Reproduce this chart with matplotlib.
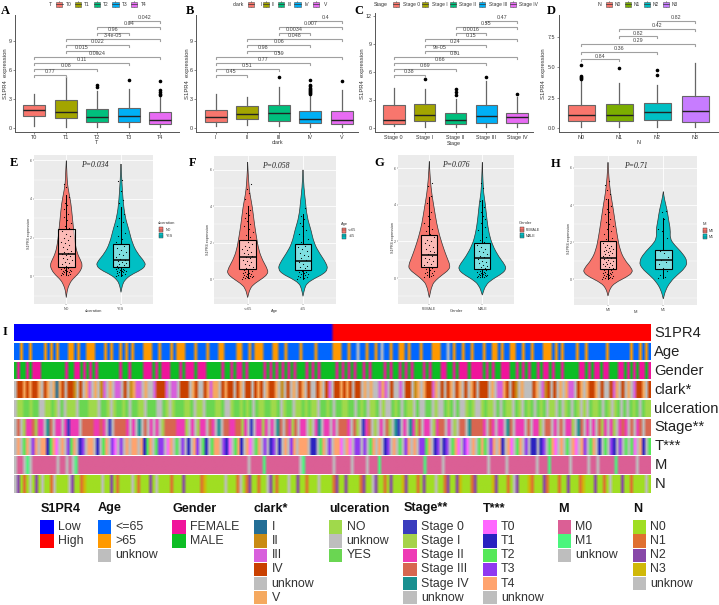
#!/usr/bin/env python3
# S1PR4 clinical figure: boxplots A-D, violins E-H, annotation heatmap I
import numpy as np
import matplotlib
matplotlib.use("Agg")
import matplotlib.pyplot as plt
from matplotlib.colors import ListedColormap
from matplotlib.patches import PathPatch, Rectangle
from matplotlib.path import Path

W, H = 719, 605
SERIF = 'Liberation Serif'
SANS = 'Liberation Sans'
GG5 = ['#F8766D', '#A3A500', '#00BF7D', '#00B0F6', '#E76BF3']
GG4 = ['#F8766D', '#7CAE00', '#00BFC4', '#C77CFF']
GG2 = ['#F8766D', '#00BFC4']

#### boxplot data
t_cats = ['T0', 'T1', 'T2', 'T3', 'T4']
t_low = [0.17, 0.10, 0.10, 0.05, 0.10]
t_q1 = [1.20, 0.97, 0.60, 0.55, 0.40]
t_med = [1.80, 1.65, 1.07, 1.17, 0.82]
t_q3 = [2.40, 2.85, 1.90, 2.05, 1.60]
t_high = [3.45, 5.30, 3.85, 4.05, 3.20]
t_out = [[], [], [4.4, 4.2], [4.95], [4.8, 3.9, 3.75, 3.55, 3.4]]
t_p = ['0.77', '0.08', '0.11', '0.0024', '0.015', '0.022', '3.4e-05', '0.96', '0.04', '0.042']

clark_cats = ['I', 'II', 'III', 'IV', 'V']
clark_low = [0.20, 0.25, 0.15, 0.05, 0.10]
clark_q1 = [0.60, 0.87, 0.68, 0.42, 0.35]
clark_med = [1.05, 1.38, 1.50, 0.85, 0.75]
clark_q3 = [1.83, 2.20, 2.38, 1.68, 1.75]
clark_high = [3.50, 3.15, 4.20, 3.40, 3.85]
clark_out = [[], [], [5.25], [4.95, 4.4, 4.3, 4.15, 4.0, 3.9, 3.8, 3.7, 3.6, 3.5], [4.8]]
clark_p = ['0.45', '0.51', '0.77', '0.59', '0.98', '0.06', '0.048', '0.0034', '0.007', '0.4']

stage_cats = ['Stage 0', 'Stage I', 'Stage II', 'Stage III', 'Stage IV']
stage_low = [0.18, 0.10, 0.10, 0.05, 0.05]
stage_q1 = [0.40, 0.75, 0.43, 0.55, 0.55]
stage_med = [0.78, 1.40, 0.78, 1.25, 1.10]
stage_q3 = [2.40, 2.50, 1.60, 2.40, 1.60]
stage_high = [4.30, 4.20, 3.07, 5.00, 3.30]
stage_out = [[], [5.25], [4.1, 3.8, 3.55], [5.4], [3.6]]
stage_p = ['0.38', '0.69', '0.66', '0.81', '9e-05', '0.24', '0.15', '0.0016', '0.55', '0.47']

n_cats = ['N0', 'N1', 'N2', 'N3']
n_low = [0.05, 0.05, 0.05, 0.05]
n_q1 = [0.55, 0.55, 0.63, 0.52]
n_med = [1.10, 1.10, 1.30, 1.37]
n_q3 = [1.92, 1.95, 2.03, 2.64]
n_high = [3.87, 3.75, 3.57, 5.36]
n_out = [[5.2, 4.3, 4.2, 4.1, 4.05], [4.95], [4.78, 4.34], []]
n_p = ['0.84', '0.36', '0.29', '0.82', '0.42', '0.82']

#### violin data: value and half width of the outline, box numbers, jittered points
e_no_y = [5.98, 5.50, 4.81, 4.29, 3.78, 3.09, 2.40, 1.71, 1.19, 0.84, 0.59, 0.33, 0.07, -0.19, -0.45, -0.71, -1.10]
e_no_w = [0, 0.010, 0.018, 0.050, 0.085, 0.110, 0.134, 0.160, 0.200, 0.260, 0.295, 0.270, 0.200, 0.100, 0.050, 0.018, 0]
e_no_box = [0.05, 0.50, 1.17, 2.43, 4.20]
e_no_pts = [0.05, 0.08, 0.1, 0.12, 0.15, 0.18, 0.2, 0.22, 0.25, 0.28, 0.3, 0.32, 0.35, 0.38, 0.42, 0.45, 0.5, 0.55,
            0.63, 0.7, 0.75, 0.85, 0.9, 0.95, 1.05, 1.1, 1.15, 1.2, 1.27, 1.33, 1.4, 1.5, 1.6, 1.7, 1.8, 1.9, 2.0,
            2.1, 2.2, 2.35, 2.5, 2.6, 2.75, 2.9, 3.05, 3.2, 3.35, 3.5, 3.7, 3.8, 4.1, 4.6, 4.75]
e_yes_y = [5.81, 4.81, 3.95, 3.09, 2.40, 1.71, 1.19, 0.76, 0.55, 0.33, 0.07, -0.19, -0.45, -0.83]
e_yes_w = [0, 0.018, 0.037, 0.073, 0.146, 0.207, 0.300, 0.430, 0.450, 0.370, 0.180, 0.070, 0.025, 0]
e_yes_box = [0.03, 0.47, 0.86, 1.65, 3.60]
e_yes_pts = [0.03, 0.06, 0.09, 0.12, 0.14, 0.17, 0.2, 0.22, 0.25, 0.27, 0.3, 0.33, 0.35, 0.38, 0.4, 0.44, 0.48, 0.5,
             0.55, 0.6, 0.64, 0.7, 0.75, 0.8, 0.85, 0.92, 1.0, 1.08, 1.15, 1.25, 1.35, 1.45, 1.55, 1.65, 1.8, 1.95,
             2.1, 2.25, 2.4, 2.6, 2.8, 3.0, 3.2, 3.5, 3.8, 3.95, 4.4, 4.95, 4.97]

f_young_y = [6.41, 5.26, 4.62, 3.98, 3.07, 2.34, 1.60, 1.06, 0.51, 0.29, 0.05, -0.22, -0.49, -1.00]
f_young_w = [0, 0.018, 0.042, 0.084, 0.120, 0.157, 0.200, 0.265, 0.367, 0.360, 0.270, 0.130, 0.042, 0]
f_young_box = [0.05, 0.55, 1.24, 2.13, 4.00]
f_young_pts = [0.03, 0.05, 0.08, 0.1, 0.12, 0.14, 0.16, 0.18, 0.2, 0.22, 0.25, 0.27, 0.3, 0.33, 0.36, 0.4, 0.44, 0.48,
               0.52, 0.58, 0.62, 0.7, 0.78, 0.85, 0.92, 1.0, 1.08, 1.15, 1.22, 1.3, 1.38, 1.45, 1.52, 1.6, 1.68, 1.75,
               1.85, 1.95, 2.05, 2.15, 2.3, 2.45, 2.6, 2.75, 2.9, 3.05, 3.2, 3.35, 3.5, 3.65, 3.8, 4.0, 4.4, 4.7, 4.95, 5.2]
f_old_y = [5.99, 4.98, 4.34, 3.43, 2.70, 1.97, 1.42, 0.88, 0.55, 0.29, 0.05, -0.22, -0.49, -0.93]
f_old_w = [0, 0.018, 0.042, 0.072, 0.145, 0.200, 0.300, 0.420, 0.450, 0.370, 0.210, 0.070, 0.030, 0]
f_old_box = [0.04, 0.51, 1.02, 1.92, 3.60]
f_old_pts = [0.04, 0.07, 0.1, 0.13, 0.16, 0.2, 0.23, 0.27, 0.3, 0.34, 0.38, 0.42, 0.47, 0.52, 0.6, 0.68, 0.75, 0.85,
             0.95, 1.05, 1.15, 1.25, 1.35, 1.45, 1.55, 1.65, 1.75, 1.85, 2.05, 2.2, 2.35, 2.5, 2.7, 2.9, 3.1, 3.3, 3.45, 3.9]

g_f_y = [6.36, 5.35, 4.53, 3.89, 2.98, 2.25, 1.53, 1.07, 0.71, 0.47, 0.16, -0.11, -0.38, -1.07]
g_f_w = [0, 0.019, 0.050, 0.088, 0.138, 0.200, 0.280, 0.340, 0.390, 0.380, 0.240, 0.126, 0.050, 0]
g_f_box = [0.05, 0.58, 1.25, 2.33, 4.40]
g_f_pts = [0.06, 0.1, 0.14, 0.18, 0.22, 0.26, 0.3, 0.35, 0.4, 0.45, 0.5, 0.55, 0.62, 0.7, 0.78, 0.85, 0.95, 1.02, 1.1,
           1.2, 1.3, 1.4, 1.5, 1.6, 1.7, 1.8, 1.9, 2.0, 2.1, 2.25, 2.4, 2.55, 2.7, 2.85, 3.0, 3.2, 3.4, 3.6, 3.8, 4.1, 4.45, 5.0, 5.2]
g_m_y = [6.31, 5.35, 4.62, 4.07, 3.16, 2.44, 1.80, 1.16, 0.71, 0.47, 0.22, -0.07, -0.38, -0.93]
g_m_w = [0, 0.012, 0.025, 0.057, 0.088, 0.126, 0.190, 0.310, 0.430, 0.450, 0.365, 0.190, 0.063, 0]
g_m_box = [0.03, 0.51, 1.07, 1.89, 4.25]
g_m_pts = [0.03, 0.05, 0.07, 0.09, 0.11, 0.13, 0.15, 0.17, 0.19, 0.21, 0.24, 0.26, 0.29, 0.32, 0.35, 0.38, 0.42, 0.46,
           0.5, 0.55, 0.6, 0.66, 0.72, 0.8, 0.88, 0.95, 1.03, 1.12, 1.2, 1.3, 1.4, 1.5, 1.6, 1.7, 1.8, 1.95, 2.1, 2.25,
           2.4, 2.6, 2.8, 3.0, 3.2, 3.4, 3.6, 3.85, 4.0, 4.2, 4.9, 5.2]

h_m0_y = [6.30, 5.44, 4.72, 4.00, 3.02, 2.30, 1.58, 1.04, 0.59, 0.36, 0.11, -0.18, -0.48, -0.90]
h_m0_w = [0, 0.018, 0.042, 0.084, 0.133, 0.170, 0.217, 0.300, 0.430, 0.445, 0.330, 0.133, 0.036, 0]
h_m0_box = [0.03, 0.54, 1.13, 2.05, 4.30]
h_m0_pts = [0.03, 0.05, 0.07, 0.09, 0.11, 0.13, 0.15, 0.17, 0.2, 0.22, 0.25, 0.27, 0.3, 0.33, 0.36, 0.39, 0.42, 0.45,
            0.48, 0.52, 0.56, 0.6, 0.65, 0.7, 0.75, 0.8, 0.85, 0.9, 0.95, 1.0, 1.05, 1.1, 1.15, 1.2, 1.25, 1.3, 1.35,
            1.4, 1.45, 1.5, 1.55, 1.6, 1.65, 1.7, 1.75, 1.8, 1.85, 1.95, 2.05, 2.15, 2.25, 2.35, 2.45, 2.6, 2.7, 2.85,
            3.0, 3.1, 3.25, 3.4, 3.5, 3.65, 3.8, 3.95, 4.1, 4.3, 4.6, 4.8, 5.1, 5.3]
h_m1_y = [4.72, 4.27, 3.73, 3.20, 2.66, 2.20, 1.85, 1.40, 0.95, 0.59, 0.23, -0.13, -0.57, -1.06]
h_m1_w = [0, 0.024, 0.070, 0.096, 0.130, 0.120, 0.200, 0.350, 0.440, 0.390, 0.250, 0.130, 0.042, 0]
h_m1_box = [0.05, 0.54, 1.02, 1.56, 3.30]
h_m1_pts = [0.05, 0.1, 0.25, 0.45, 0.6, 0.8, 0.95, 1.05, 1.2, 1.4, 1.55, 2.2, 2.6, 2.7, 3.25, 3.65, 3.68]

#### heatmap rows, one letter per block of patients, left to right
row_names = ['S1PR4', 'Age', 'Gender', 'clark*', 'ulceration', 'Stage**', 'T***', 'M', 'N']
row_s1pr4 = 'L' * 106 + 'H' * 106
row_age = ('aabaabaaaabababaaabbabaabbbaaababaabababaaabbbaabaaababbbaaabaaabaaabbaaaab'
           'baabab' 'bbaaabbaabaaaabaaaabaaaaabbbaabaauaabaabauaabaabbabaaabaaabbbaauabaabaabaa'
           'abaabbabaabbaabaabaaabbbababaaaabaabaaaaaabaaaaaaabaababa')
row_gender = ('mfmmfmfffmmmmmmmmfmmffmfmfmfmmmmmmmfmmfmmmmfffmfmfffmmmfmfffmfffmmmmmfmmfmf'
              'fmfmmmmmfmfmfmfmfmfmmmfmfmfmmmmmfmfmfmfmmfmfmmmmfmfmmfmfmfmmmfmfmmmffmmfmfffmfff'
              'fmfmfmmfffmmfmfmfmmfmffmfmmfmmmmmffmfmffmffmmmffmfmfmffmf')
row_clark = ('u44545445u45u5154u442u4u53u5u23u5u33u4u2533u5uu34443u33u444u54uu45355u4544u4'
             '5u44u454u5445u2u4u5u45u4uu45u43u445454u44u5u5uu353u4uu3u44u25u54435u4u45u45u4u54u44'
             '4u5u3354u42u5uuu45u324u4u5u533u45u5445u4uu435u4u5u3445u4')
row_ulcer = ('unnyynyyuunnynuyunnnuyyynnnuyynunyynyuyynnuyyyuuynunyyynnyunnuyyynnyuunyyny'
             'nyuynnyynnyunyyunnynynnuyynyuyynnyyuynyunnyunuuynyuynnuyuuyyunuuynyuyuunynu'
             'unynnuyuynnuynuynyuynyunnuyunyuynunuynnyuynunyuyuynyuynn')
row_stage = ('u3u1223122u43u22u20222u33332232u0u33332u2u4u3u2u2u133332221u2u122u32u4u3322'
             '3312u0u2212u2u43u3213u22u1u24u22u2u3332u31u023u1u2u31u40u2u4213u22u1233u2u1u33u43333'
             '2u32u22u43u222u3u221u33u2u3u221u43u2u2u312u21u232u3u23u33')
row_t = ('u4u24u34u441240u4u324u13u44u1u24u30u3u4u44u4124u233u04u2u3u1u43u21u244u310u2'
         '41u40u24u3u13u1u4u34u444u11u24u3u440u40u33u3u24u4u13u4u2u34u4u3324u13u13u240u30u4u24'
         '2u34u41u40u24u3u11u13u240u4u2u40u43u24u1u2u31u3u2u20u41u2')
row_m = ('u00u1u00000000u00u0u100000000000000000000000000000000000000000000000000000000u'
         '0000100000000000u1000000000u00000u0000u000100000000000000100000u0000000000000'
         '0u00000u000000000u0001000000u00000u00u000001000000u0000')
row_n = ('ucabauacauaabuaaaaucaabdaaaaauaacabaaaauabaaacauaaaabaaacaaaaabdaaaaaauaaab'
         'uabcaabaaucabaaauaacaabaaauaaaabcaacaaaabcaaucaabacaaadcaaabacaaauaabcaacdaaabcaaa'
         'aadcaaabaucaaadbaaacbaaabaacaaabdaaacaabauaaacaabaaaaua')

row_data = [row_s1pr4, row_age, row_gender, row_clark, row_ulcer, row_stage, row_t, row_m, row_n]
row_codes = ['LH', 'abu', 'fm', '1234u5', 'nuy', '01234u', '01234u', '01u', 'abcdu']

#### heatmap legend
s1pr4_lab, s1pr4_col = ['Low', 'High'], ['#0000FF', '#FF0000']
age_lab, age_col = ['<=65', '>65', 'unknow'], ['#0066FF', '#FF9900', '#BEBEBE']
gender_lab, gender_col = ['FEMALE', 'MALE'], ['#F0149B', '#0DBD24']
clark_lab = ['I', 'II', 'III', 'IV', 'unknow', 'V']
clark_col = ['#236E96', '#C98B14', '#D85FDC', '#C94000', '#BEBEBE', '#F5A95F']
ulcer_lab, ulcer_col = ['NO', 'unknow', 'YES'], ['#A0D94B', '#BEBEBE', '#6AD652']
stage_lab = ['Stage 0', 'Stage I', 'Stage II', 'Stage III', 'Stage IV', 'unknow']
stage_col = ['#3A3CBE', '#A5D24B', '#EE3AB5', '#D86650', '#1A9090', '#BEBEBE']
t_lab = ['T0', 'T1', 'T2', 'T3', 'T4', 'unknow']
t_col = ['#FF66FF', '#2A22C0', '#55E858', '#9038F0', '#FFA36E', '#BEBEBE']
m_lab, m_col = ['M0', 'M1', 'unknow'], ['#DB5F95', '#4BF57D', '#BEBEBE']
n_lab = ['N0', 'N1', 'N2', 'N3', 'unknow']
n_col = ['#A0DE22', '#E07030', '#8848A8', '#D0B808', '#BEBEBE']

fig = plt.figure(figsize=(W / 100, H / 100), dpi=100)
ov = fig.add_axes([0, 0, 1, 1], zorder=5)  # overlay in picture pixels for letters and legends
ov.set_xlim(0, W)
ov.set_ylim(H, 0)
ov.axis('off')


def px_axes(left, top, right, bottom):
    return fig.add_axes([left / W, 1 - bottom / H, (right - left) / W, (bottom - top) / H])


def letter(s, x, y):
    ov.text(x, y, s, family=SERIF, weight='bold', size=9, ha='center', va='center', color='black')


def key_row(title, tx, cols, labs, key_x, lab_x, ha='center'):
    # ggplot legend strip above a boxplot panel
    y = 4.2
    ov.text(tx, y, title, family=SANS, size=3.8, ha='center', va='center', color='#333333')
    for c, lab, kx, lx in zip(cols, labs, key_x, lab_x):
        ov.plot([kx, kx], [y - 3.2, y + 3.2], color='#555555', lw=0.4)
        ov.add_patch(Rectangle((kx - 3.2, y - 2.4), 6.4, 4.8, fc=c, ec='#555555', lw=0.4, zorder=3))
        ov.plot([kx - 3.2, kx + 3.2], [y, y], color='#333333', lw=0.5, zorder=4)
        ov.text(lx, y, lab, family=SANS, size=3.5, ha=ha, va='center', color='#333333')


def box_panel(rect, zero_px, unit_px, first_px, step_px, cats, low, q1, med, q3, high, out, cols,
              yticks, ylabels, xtitle, pvals, base, gap, ylab_x):
    left, top, right, bottom = rect
    ax = px_axes(left, top, right, bottom)
    stats = [dict(whislo=a, q1=b, med=c, q3=d, whishi=e, fliers=f)
             for a, b, c, d, e, f in zip(low, q1, med, q3, high, out)]
    pos = np.arange(len(cats))
    res = ax.bxp(stats, positions=pos, widths=0.7, patch_artist=True, showcaps=False,
                 medianprops=dict(color='#222222', lw=1.0),
                 whiskerprops=dict(color='#666666', lw=0.9),
                 boxprops=dict(edgecolor='#666666', lw=0.8),
                 flierprops=dict(marker='o', mfc='black', mec='black', ms=1.6))
    for patch, c in zip(res['boxes'], cols):
        patch.set_facecolor(c)
    # comparison brackets, every pair in order
    pairs = [(i, j) for i in range(len(cats)) for j in range(i + 1, len(cats))]
    tip = 2.0 / unit_px
    for k, ((i, j), p) in enumerate(zip(pairs, pvals)):
        y = base + k * gap
        ax.plot([i, i, j, j], [y - tip, y, y, y - tip], color='#A0A0A0', lw=0.8, solid_joinstyle='miter')
        ax.text((i + j) / 2, y + 0.8 / unit_px, p, size=3.9, family=SANS, ha='center', va='bottom', color='#444444')
    ax.set_xlim((left - first_px) / step_px, (right - first_px) / step_px)
    ax.set_ylim((zero_px - bottom) / unit_px, (zero_px - top) / unit_px)
    ax.set_xticks(pos)
    ax.set_xticklabels(cats, family=SANS, size=3.9, color='#333333')
    ax.set_yticks(yticks)
    ax.set_yticklabels(ylabels, family=SANS, size=3.9, color='#333333')
    ax.tick_params(length=1.5, width=0.4, pad=1, color='#333333')
    ax.spines['top'].set_visible(False)
    ax.spines['right'].set_visible(False)
    for side in ['left', 'bottom']:
        ax.spines[side].set_linewidth(0.7)
        ax.spines[side].set_color('#555555')
    ov.text((left + right) / 2, bottom + 11, xtitle, family=SANS, size=3.9, ha='center', va='center', color='#333333')
    ov.text(ylab_x, 74, 'S1PR4  expression', family=SANS, size=4.2, rotation=90,
            ha='center', va='center', color='#333333')


def outline(c, ys, ws):
    # closed quadratic curve through the read outline
    xs = [c - w for w in ws] + [c + w for w in ws[::-1]]
    yy = list(ys) + list(ys[::-1])
    pts = list(zip(xs, yy))
    verts = [pts[0]]
    codes = [Path.MOVETO]
    for a, b in zip(pts[:-1], pts[1:]):
        verts += [a, ((a[0] + b[0]) / 2, (a[1] + b[1]) / 2)]
        codes += [Path.CURVE3, Path.CURVE3]
    verts += [pts[-1], pts[0]]
    codes += [Path.LINETO, Path.LINETO]
    return Path(verts, codes)


def violin_panel(rect, zero_px, unit_px, first_px, step_px, groups, cats, xtitle, p_xy, p_text, leg_x, leg_lab_x, leg_y):
    left, top, right, bottom = rect
    ax = px_axes(left, top, right, bottom)
    ax.set_facecolor('#EBEBEB')
    ax.set_axisbelow(True)
    ax.set_xlim((left - first_px) / step_px, (right - first_px) / step_px)
    ax.set_ylim((zero_px - bottom) / unit_px, (zero_px - top) / unit_px)
    ax.set_xticks([0, 1])
    ax.set_xticklabels(cats, family=SANS, size=2.6, color='#4D4D4D')
    ax.set_yticks([0, 2, 4, 6])
    ax.set_yticklabels(['0', '2', '4', '6'], family=SANS, size=2.6, color='#4D4D4D')
    ax.set_yticks([-1, 1, 3, 5], minor=True)
    ax.grid(which='major', color='white', lw=0.6)
    ax.grid(which='minor', axis='y', color='white', lw=0.3)
    ax.tick_params(which='major', length=1, width=0.3, pad=0.8, color='#333333')
    ax.tick_params(which='minor', length=0)
    for s in ax.spines.values():
        s.set_visible(False)
    for k, (ys, ws, box, pts) in enumerate(groups):
        ax.add_patch(PathPatch(outline(k, ys, ws), fc=GG2[k], ec='#333333', lw=0.5, zorder=2))
        stat = dict(whislo=box[0], q1=box[1], med=box[2], q3=box[3], whishi=box[4], fliers=[])
        ax.bxp([stat], positions=[k], widths=0.3, patch_artist=True, showcaps=False, manage_ticks=False,
               medianprops=dict(color='black', lw=1.1, zorder=4),
               whiskerprops=dict(color='black', lw=0.7, zorder=3),
               boxprops=dict(facecolor=(1, 1, 1, 0.5), edgecolor='black', lw=0.8, zorder=3))
        pts = np.asarray(pts)
        # spread the points sideways in a fixed order, narrower up the thin neck
        spread = ((np.arange(len(pts)) * 0.618) % 1 - 0.5) * 2 * 0.1
        ax.scatter(k + spread * np.where(pts > 3, 0.55, 1), pts, s=0.7, c='black', lw=0, zorder=5)
    ov.text(p_xy[0], p_xy[1], p_text, family=SERIF, style='italic', size=5.6, ha='center', va='center', color='#222222')
    ov.text((left + right) / 2, bottom + 6.5, xtitle, family=SANS, size=2.9, ha='center', va='center', color='#333333')
    ov.text(left - 5.5, zero_px - 2.2 * unit_px, 'S1PR4 expression', family=SANS, size=2.7, rotation=90,
            ha='center', va='center', color='#333333')
    ov.text(leg_x, leg_y - 6.5, xtitle, family=SANS, size=2.9, ha='left', va='center', color='#333333')
    for k in range(2):
        y = leg_y + k * 6
        ov.add_patch(Rectangle((leg_x + 0.5, y - 2.3), 4.4, 4.6, fc=GG2[k], ec='#333333', lw=0.3))
        ov.plot([leg_x + 0.5, leg_x + 4.9], [y, y], color='#333333', lw=0.3)
        ov.text(leg_lab_x, y, cats[k], family=SANS, size=2.6, ha='left', va='center', color='#333333')


#### panels A-D
box_panel((15, 15, 179, 132), 127.7, 9.63, 34.3, 31.5, t_cats, t_low, t_q1, t_med, t_q3, t_high, t_out, GG5,
          [0, 3, 6, 9], ['0', '3', '6', '9'], 'T', t_p, 5.47, 0.623, 6)
box_panel((196.3, 15, 358, 132), 127.5, 9.63, 215.7, 31.5, clark_cats, clark_low, clark_q1, clark_med, clark_q3,
          clark_high, clark_out, GG5, [0, 3, 6, 9], ['0', '3', '6', '9'], 'clark', clark_p, 5.47, 0.623, 187.5)
box_panel((375, 13, 533, 132), 127.7, 9.33, 393.7, 30.9, stage_cats, stage_low, stage_q1, stage_med, stage_q3,
          stage_high, stage_out, GG5, [0, 3, 6, 9, 12], ['0', '3', '6', '9', '12'], 'Stage', stage_p, 5.64, 0.643, 362.5)
box_panel((559, 15, 718, 132), 128, 12.13, 581.3, 38, n_cats, n_low, n_q1, n_med, n_q3, n_high, n_out, GG4,
          [0, 2.5, 5, 7.5], ['0.0', '2.5', '5.0', '7.5'], 'N', n_p, 5.66, 0.63, 544)

key_row('T', 50.3, GG5, t_cats, [59.3, 78, 96.7, 115.3, 134], [68.3, 87, 105.7, 124.3, 143.3])
key_row('clark', 238.3, GG5, clark_cats, [250.7, 265.7, 280.7, 297.3, 315.7], [260.7, 272.7, 289.3, 307.3, 326])
key_row('Stage', 380.7, GG5, stage_cats, [395.7, 425, 452.7, 481.7, 513],
        [403.3, 431.7, 459.3, 489, 519], ha='left')
key_row('N', 600, GG4, n_cats, [608.7, 627.7, 646.7, 665.7], [617.7, 636.7, 655.7, 675])

letter('A', 5, 10.5)
letter('B', 190, 10.5)
letter('C', 359, 10.5)
letter('D', 551.5, 10.5)

#### panels E-H
violin_panel((34.3, 155, 153, 304.3), 276.3, 19.33, 66.3, 54.7,
             [(e_no_y, e_no_w, e_no_box, e_no_pts), (e_yes_y, e_yes_w, e_yes_box, e_yes_pts)],
             ['NO', 'YES'], 'ulceration', (94.3, 165), 'P=0.034', 158.2, 165.7, 229.7)
violin_panel((214, 155.7, 335.7, 304.3), 279.3, 18.27, 247.7, 55.3,
             [(f_young_y, f_young_w, f_young_box, f_young_pts), (f_old_y, f_old_w, f_old_box, f_old_pts)],
             ['<=65', '>65'], 'Age', (275.7, 165.7), 'P=0.058', 341.2, 348.3, 230.3)
violin_panel((398.3, 155, 513.7, 304), 278, 18.33, 429.3, 53,
             [(g_f_y, g_f_w, g_f_box, g_f_pts), (g_m_y, g_m_w, g_m_box, g_m_pts)],
             ['FEMALE', 'MALE'], 'Gender', (455.7, 165), 'P=0.076', 519.2, 525.7, 229.7)
violin_panel((574.3, 155.7, 696.7, 305.3), 279.3, 18.57, 608, 55.3,
             [(h_m0_y, h_m0_w, h_m0_box, h_m0_pts), (h_m1_y, h_m1_w, h_m1_box, h_m1_pts)],
             ['M0', 'M1'], 'M', (636.3, 166.3), 'P=0.71', 702.2, 708.7, 230.7)

letter('E', 14, 163)
letter('F', 193, 163)
letter('G', 379, 163)
letter('H', 556, 164)
letter('I', 5, 332)

#### panel I: annotation rows
row_cols = [s1pr4_col, age_col, gender_col, clark_col, ulcer_col, stage_col, t_col, m_col, n_col]
for r, (name, s, codes, cols) in enumerate(zip(row_names, row_data, row_codes, row_cols)):
    top = 324 + r * 18.92
    ax = px_axes(13.5, top, 650, top + 17.4)
    vals = np.array([[codes.index(ch) for ch in s]])
    # soft colour blend, the stripes in the source are narrow and blurred
    ax.imshow(vals, aspect='auto', cmap=ListedColormap(cols), vmin=0, vmax=len(cols) - 1,
              interpolation='bilinear', interpolation_stage='rgba')
    ax.axis('off')
    ov.text(654.3, top + 8.9, name, family=SANS, size=10.6, ha='left', va='center', color='#222222')

#### panel I: legend
legends = [('S1PR4', s1pr4_lab, s1pr4_col, 40.3), ('Age', age_lab, age_col, 98), ('Gender', gender_lab, gender_col, 172.3),
           ('clark*', clark_lab, clark_col, 254), ('ulceration', ulcer_lab, ulcer_col, 329),
           ('Stage**', stage_lab, stage_col, 403.3), ('T***', t_lab, t_col, 483.3), ('M', m_lab, m_col, 558),
           ('N', n_lab, n_col, 632.7)]
for title, labs, cols, x in legends:
    ov.text(x, 508.5, title, family=SANS, weight='bold', size=9.1, ha='left', va='center', color='#111111')
    for k, (lab, c) in enumerate(zip(labs, cols)):
        y = 520.3 + k * 14.13
        ov.add_patch(Rectangle((x, y), 13.3, 13.3, fc=c, ec='none'))
        ov.text(x + 17.5, y + 6.8, lab, family=SANS, size=8.9, ha='left', va='center', color='#333333')

fig.savefig('out.png', dpi=100)
